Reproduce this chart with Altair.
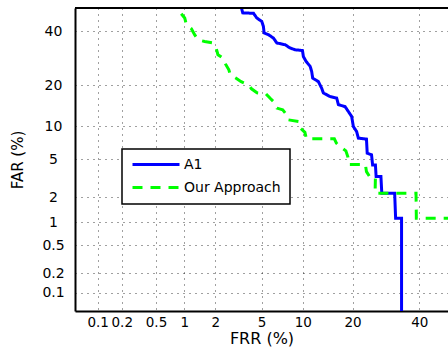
import altair as alt
import pandas as pd
from statistics import NormalDist

# ---- data (percent) ----
SERIES = ["A1", "Our Approach"]
COLORS = ["#0000ff", "#00ff00"]
DASHES = [[1, 0], [10, 8]]

A1_FRR = [3.42, 3.51, 4.31, 4.58, 5.02, 5.17, 5.24, 5.66, 6.18, 6.55, 7.54, 8.18, 8.87,
          9.96, 10.1, 10.53, 11.2, 11.46, 11.63, 12.64, 13.25, 13.58, 14.93, 16.3, 16.68,
          18.2, 18.97, 19.77, 20.19, 21.0, 21.46, 23.6, 23.8, 25.0, 25.3, 26.1, 26.3,
          27.7, 27.96, 31.9, 32.2, 34.1, 34.1]
A1_FAR = [50, 47.9, 47.7, 45.7, 44.2, 42.1, 39.3, 38.6, 37.2, 35.2, 34.5, 33.2, 32.5,
          32.2, 29.9, 28.1, 26.3, 24.5, 22.3, 21.2, 19.2, 17.8, 16.8, 16.4, 14.7,
          14.2, 13.05, 11.94, 9.9, 9.0, 7.88, 7.72, 5.75, 5.54, 4.42, 4.42, 3.36,
          3.36, 2.21, 2.21, 1.12, 1.12, 0.01]

OUR_FRR = [0.93, 1.01, 1.05, 1.18, 1.27, 1.37, 1.59, 1.88, 2.04, 2.12, 2.36, 2.48, 2.66,
           2.74, 3.08, 3.40, 3.92, 4.15, 4.60, 5.41, 5.81, 6.18, 6.55, 7.24, 7.74, 7.96,
           9.43, 9.65, 10.34, 10.58, 15.8, 16.24, 17.0, 18.38, 18.85, 19.1, 23.3, 23.6,
           24.5, 26.1, 26.0, 38.9, 39.0, 50]
OUR_FAR = [47.5, 45.7, 42.8, 41.1, 38.6, 36.5, 35.8, 35.3, 33.2, 30.6, 29.3, 27.2, 25.1,
           23.4, 22.3, 21.2, 20.2, 19.0, 17.86, 17.57, 16.4, 15.5, 13.85, 13.44, 12.3, 11.22,
           10.88, 9.61, 8.85, 7.77, 7.77, 7.11, 6.62, 6.04, 5.30, 4.47, 4.47, 3.78,
           3.33, 3.30, 2.21, 2.21, 1.12, 1.12]

TICKS = [0.1, 0.2, 0.5, 1, 2, 5, 10, 20, 40]
TICK_LABELS = ["0.1", "0.2", "0.5", "1", "2", "5", "10", "20", "40"]
AXIS_MIN, AXIS_MAX = 0.05, 50  # percent

# ---- normal-deviate (DET) transform ----
nd = NormalDist()


def dev(p):
    return nd.inv_cdf(p / 100.0)


rows = []
for name, frr, far in [(SERIES[0], A1_FRR, A1_FAR), (SERIES[1], OUR_FRR, OUR_FAR)]:
    for i, (a, b) in enumerate(zip(frr, far)):
        rows.append({"series": name, "frr": a, "far": b, "zx": dev(a), "zy": dev(b), "order": i})
df = pd.DataFrame(rows)

tick_vals = [dev(t) for t in TICKS]
expr = ""
for i in range(len(TICKS) - 1):
    mid = (tick_vals[i] + tick_vals[i + 1]) / 2
    expr += f"datum.value < {mid:.5f} ? '{TICK_LABELS[i]}' : "
expr += f"'{TICK_LABELS[-1]}'"

dom = [dev(AXIS_MIN), dev(AXIS_MAX)]

leg = alt.Legend(
    orient="none", legendX=47, legendY=141, symbolType="stroke", symbolSize=2209,
    symbolStrokeWidth=3, clipHeight=13, rowPadding=8, padding=9,
    strokeColor="black", fillColor="white", labelFont="DejaVu Sans",
    labelFontSize=14, labelColor="black", labelOffset=3,
)

curves = alt.Chart(df).mark_line(clip=True, strokeWidth=3, strokeCap="butt").encode(
    x=alt.X("zx:Q", scale=alt.Scale(domain=dom, nice=False, zero=False),
            axis=alt.Axis(values=tick_vals, labelExpr=expr, title="FRR (%)",
                          labelPadding=4, labelFontSize=13.5, titleFontSize=16,
                          titleY=27.5, titleBaseline="middle",
                          labelOverlap=False, labelFlush=False)),
    y=alt.Y("zy:Q", scale=alt.Scale(domain=dom, nice=False, zero=False),
            axis=alt.Axis(values=tick_vals, labelExpr=expr, title="FAR (%)",
                          labelPadding=22, labelAlign="center", labelBaseline="middle",
                          titleFontSize=15, titleX=-58, titleY=151.5,
                          titleBaseline="middle", labelOverlap=False, labelFlush=False)),
    color=alt.Color("series:N", scale=alt.Scale(domain=SERIES, range=COLORS),
                    legend=leg, title=None),
    strokeDash=alt.StrokeDash("series:N", scale=alt.Scale(domain=SERIES, range=DASHES),
                              legend=leg, title=None),
    order="order:Q",
)

top = alt.Chart(alt.Data(values=[{"k": 0}])).mark_rule(color="black", strokeWidth=2).encode(
    y=alt.value(0)
)

chart = alt.layer(curves, top).properties(
    width=373, height=303,
    autosize=alt.AutoSizeParams(type="none"),
    padding={"left": 75, "top": 8, "right": 0, "bottom": 36},
    background="white",
).configure_view(strokeWidth=0).configure_axis(
    grid=True, gridColor="#000000", gridDash=[1, 5], gridWidth=1, gridOpacity=0.75,
    domainColor="black", domainWidth=2, ticks=False, tickSize=0,
    labelFont="DejaVu Sans", labelFontSize=14, labelColor="black",
    titleFont="DejaVu Sans", titleFontWeight="normal", titleColor="black",
).configure_legend(strokeWidth=1.5)

chart.save("out.html", embed_options={"renderer": "svg", "actions": False})
